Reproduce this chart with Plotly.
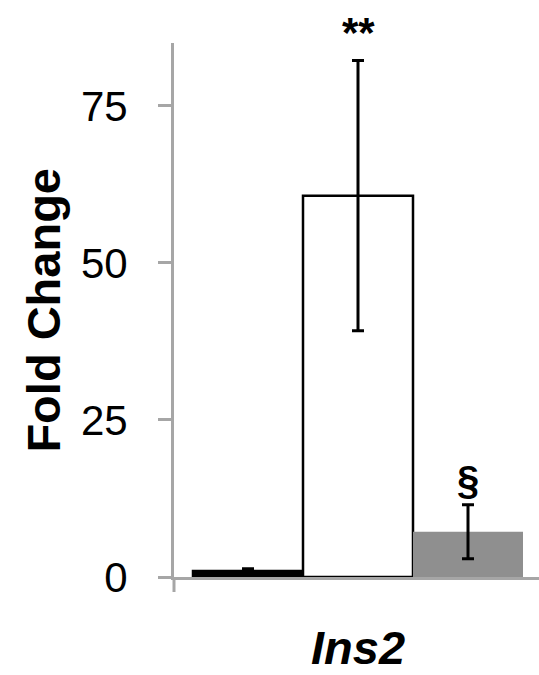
import plotly.graph_objects as go

# Fold change of Ins2 expression in three groups (mean ± error)
groups = ["Group 1", "Group 2", "Group 3"]
fold_change = [0.95, 60.7, 7.2]
errors = [0.35, 21.5, 4.3]
significance = ["", "**", "§"]
gene_label = "Ins2"
y_ticks = [0, 25, 50, 75]

bar_fill = ["#000000", "#ffffff", "#8f8f8f"]
bar_edge = ["#000000", "#000000", "rgba(0,0,0,0)"]
bar_edge_w = [2.5, 2.5, 0]

FONT = "Arial, Liberation Sans, sans-serif"
AXIS_GREY = "#a6a6a6"

positions = list(range(len(groups)))

fig = go.Figure(
    go.Bar(
        x=positions,
        y=fold_change,
        width=1,
        marker=dict(color=bar_fill, line=dict(color=bar_edge, width=bar_edge_w)),
        error_y=dict(type="data", array=errors, color="#000000", thickness=3, width=6),
        hoverinfo="skip",
    )
)

# significance marks above the error bars
for i, mark in enumerate(significance):
    if not mark:
        continue
    top = fold_change[i] + errors[i]
    fig.add_annotation(
        x=positions[i], y=top, xref="x", yref="y",
        text=f"<b>{mark}</b>", showarrow=False,
        yanchor="bottom", yshift=3 if mark == "**" else 1,
        font=dict(family=FONT, size=42 if mark == "**" else 40, color="#000000"),
    )

# y-axis title
fig.add_annotation(
    x=-0.36, y=0.5, xref="paper", yref="paper",
    text="<b>Fold Change</b>", textangle=-90, showarrow=False,
    xanchor="center", yanchor="middle",
    font=dict(family=FONT, size=47, color="#000000"),
)

# short extension of the vertical axis below the baseline
fig.add_shape(
    type="line", xref="paper", yref="paper",
    x0=0, x1=0, y0=0, y1=-15 / 534,
    line=dict(color=AXIS_GREY, width=3),
)

fig.update_layout(
    width=539, height=675,
    margin=dict(l=174, r=0, t=43, b=98),
    paper_bgcolor="#ffffff", plot_bgcolor="#ffffff",
    showlegend=False,
    xaxis=dict(
        range=[-0.5 - 19 / 110, 2.5 + 16 / 110],
        tickvals=[1], ticktext=[gene_label],
        tickfont=dict(family=FONT, size=47, color="#000000", weight="bold", style="italic"),
        ticks="", showgrid=False, zeroline=False,
        showline=True, linecolor=AXIS_GREY, linewidth=3,
        ticklabelstandoff=28,
        fixedrange=True,
    ),
    yaxis=dict(
        range=[0, 85],
        tickvals=y_ticks,
        tickfont=dict(family=FONT, size=42, color="#000000"),
        ticks="outside", ticklen=13, tickwidth=3, tickcolor=AXIS_GREY,
        ticklabelstandoff=22,
        showgrid=False, zeroline=False,
        showline=True, linecolor=AXIS_GREY, linewidth=3,
        fixedrange=True,
    ),
)

fig.write_html("out.html")
